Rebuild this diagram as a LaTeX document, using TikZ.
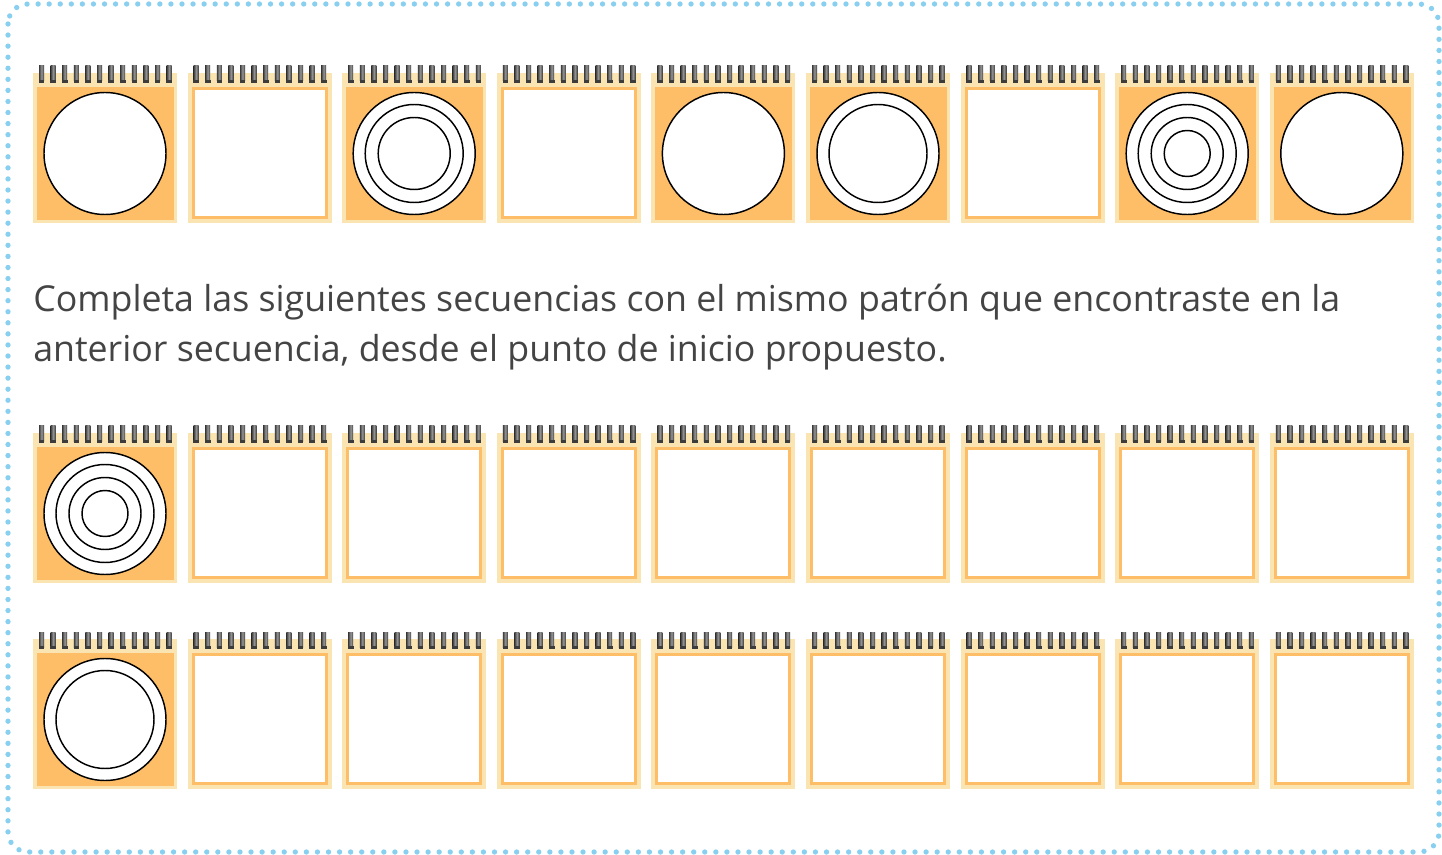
\documentclass[tikz,border=0pt]{standalone}
\usepackage{fontspec}
\setmainfont{Open Sans}
\usepackage{tikz}
\definecolor{frameBlue}{RGB}{137,208,240}
\definecolor{creamColor}{RGB}{249,228,178}
\definecolor{pageOrange}{RGB}{254,190,104}
\definecolor{ringDark}{RGB}{60,60,60}
\definecolor{ringLight}{RGB}{150,150,150}
\definecolor{textGrey}{RGB}{68,68,68}
\tikzstyle{worksheet} = [x = .75pt, y = -.75pt]
\tikzstyle{frameStyle} = [color=frameBlue, line width=4pt, line cap=round, dash pattern=on 0pt off 8.3pt, rounded corners=15pt]
\tikzstyle{cardBack} = [fill=creamColor]
\tikzstyle{fullPage} = [fill=pageOrange]
\tikzstyle{emptyPage} = [draw=pageOrange, fill=white, line width=2.25pt]
\tikzstyle{ringStyle} = [draw=black, fill=white, line width=1.1pt]
\tikzstyle{ringShade} = [left color=ringDark, right color=ringDark, middle color=ringLight]
\newcommand{\cardPitch}{154.6}
\newcommand{\spiral}{
  \foreach \ring in {0,...,11} {
    \pgfmathsetmacro{\ringX}{6 + 11.6 * \ring}
    \shade [ringShade] (\ringX, -7) rectangle + (5, 15);
    \fill [ringDark] (\ringX - .3, 7) rectangle + (5.6, 3);
  }
}
\newcommand{\plates}[1]{
  \ifnum #1 > 0 \filldraw [ringStyle] (72, 80.5) circle (61); \fi
  \ifnum #1 > 1 \draw [ringStyle] (72, 80.5) circle (49); \fi
  \ifnum #1 > 2 \draw [ringStyle] (72, 80.5) circle (36); \fi
  \ifnum #1 > 3 \draw [ringStyle] (72, 80.5) circle (23); \fi
}
% #1 column, #2 top, #3 number of circles (0 = empty page)
\newcommand{\card}[3]{
  \pgfmathsetmacro{\cardX}{33 + \cardPitch * (#1 - 1)}
  \begin{scope}[shift={(\cardX, #2)}]
    \fill [cardBack] (0, 0) rectangle (144, 150);
    \ifnum #3 = 0
      \filldraw [emptyPage] (5.5, 15.5) rectangle (138.5, 144.5);
    \else
      \fill [fullPage] (4, 14) rectangle (141, 147);
      \plates{#3}
    \fi
    \spiral
  \end{scope}
}

\begin{document}
\begin{tikzpicture}[worksheet]
  \useasboundingbox (0, 0) rectangle (1442, 855);
  \draw [frameStyle] (8, 4) rectangle (1439, 852);

  % model sequence
  \foreach \column/\circles in {1/1, 2/0, 3/3, 4/0, 5/1, 6/2, 7/0, 8/4, 9/1} {
    \card{\column}{73}{\circles}
  }

  \node (instruction) [anchor=base west, align=left, text=textGrey,
    font=\fontsize{26.8pt}{37.5pt}\selectfont, inner sep=0pt] at (33, 362)
    {Completa las siguientes secuencias con el mismo patrón que encontraste en la\\
     anterior secuencia, desde el punto de inicio propuesto.};

  % sequences to complete
  \foreach \column in {1,...,9} {
    \pgfmathtruncatemacro{\startA}{\column == 1 ? 4 : 0}
    \pgfmathtruncatemacro{\startB}{\column == 1 ? 2 : 0}
    \card{\column}{433}{\startA}
    \card{\column}{639}{\startB}
  }
\end{tikzpicture}
\end{document}
